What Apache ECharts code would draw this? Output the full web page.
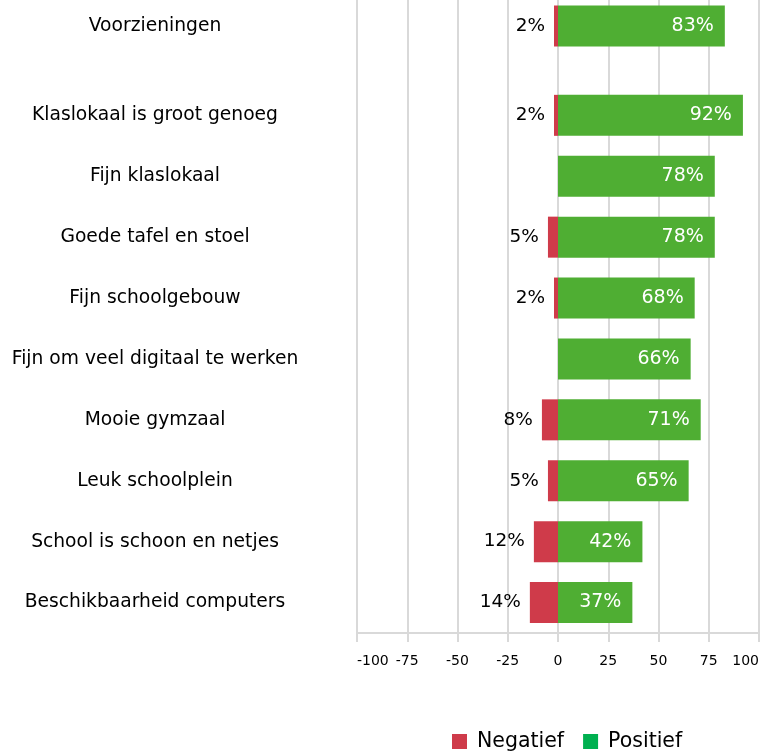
<!DOCTYPE html>
<html>
<head>
<meta charset="utf-8">
<script src="https://cdn.jsdelivr.net/npm/echarts@6/dist/echarts.min.js"></script>
<style>
html,body{margin:0;padding:0;background:#fff;}
#chart{width:761px;height:756px;}
</style>
</head>
<body>
<div id="chart"></div>
<script>
// Data
var headerCategory = ['Voorzieningen'];
var headerNegatief = [2];
var headerPositief = [83];

var categories = [
  'Klaslokaal is groot genoeg',
  'Fijn klaslokaal',
  'Goede tafel en stoel',
  'Fijn schoolgebouw',
  'Fijn om veel digitaal te werken',
  'Mooie gymzaal',
  'Leuk schoolplein',
  'School is schoon en netjes',
  'Beschikbaarheid computers'
];
var negatief = [2, 0, 5, 2, 0, 8, 5, 12, 14];
var positief = [92, 78, 78, 68, 66, 71, 65, 42, 37];
var tickMin = -100, tickMax = 100, tickStep = 25;

var FONT = 'DejaVu Sans';
var RED = '#cf3b4a';
var GREEN = '#4fae33';
var LEGEND_GREEN = '#00b050';
var GRID = '#d9d9d9';

function neg(arr){ return arr.map(function(v){ return v == null ? null : -v; }); }
function pctLabel(p){ var v = Math.abs(p.value); return (!v) ? '' : v + '%'; }

// the lower block gets one empty leading slot (the spacing row under the header)
var lowerCats = [''].concat(categories);
var lowerNeg = [null].concat(negatief);
var lowerPos = [null].concat(positief);

var chart = echarts.init(document.getElementById('chart'), null, {renderer:'canvas'});

function xAxisCfg(gridIndex, showAxis){
  return {
    type:'value', gridIndex:gridIndex, min:tickMin, max:tickMax, interval:tickStep,
    splitLine:{show:true, lineStyle:{color:GRID, width:2}},
    axisLine:{show:showAxis, onZero:false, lineStyle:{color:GRID, width:2}},
    axisTick:{show:showAxis, length:9, lineStyle:{color:GRID, width:2}},
    axisLabel:{show:showAxis, fontFamily:FONT, fontSize:14, color:'#000', margin:21,
      alignMinLabel:'left', alignMaxLabel:'right'}
  };
}
function yAxisCfg(gridIndex, data){
  return {
    type:'category', gridIndex:gridIndex, data:data, inverse:true,
    axisLine:{show:true, lineStyle:{color:GRID, width:2}},
    axisTick:{show:false},
    axisLabel:{fontFamily:FONT, fontSize:18.7, color:'#000', align:'center', margin:202}
  };
}
function negSeries(xi, data){
  return {
    name:'Negatief', type:'bar', stack:'s'+xi, xAxisIndex:xi, yAxisIndex:xi,
    data:neg(data), barWidth:41, itemStyle:{color:RED},
    label:{show:true, position:'left', distance:9, formatter:pctLabel,
      fontFamily:FONT, fontSize:18.5, color:'#000'}
  };
}
function posSeries(xi, data){
  return {
    name:'Positief', type:'bar', stack:'s'+xi, xAxisIndex:xi, yAxisIndex:xi,
    data:data, barWidth:41, itemStyle:{color:GREEN},
    label:{show:true, position:'insideRight', distance:11, formatter:pctLabel,
      fontFamily:FONT, fontSize:19, color:'#fff'}
  };
}

chart.setOption({
  animation:false,
  backgroundColor:'#fff',
  textStyle:{fontFamily:FONT},
  grid:[
    {left:357, right:2, top:0, height:52, outerBoundsMode:'none', containLabel:false},
    {left:357, right:2, top:24, bottom:123, outerBoundsMode:'none', containLabel:false}
  ],
  xAxis:[xAxisCfg(0,false), xAxisCfg(1,true)],
  yAxis:[yAxisCfg(0, headerCategory), yAxisCfg(1, lowerCats)],
  legend:{
    left:452, top:731, padding:0, itemWidth:15, itemHeight:15, itemGap:19, icon:'rect',
    textStyle:{fontFamily:FONT, fontSize:20.5, color:'#000', padding:[0,0,0,5]},
    data:[
      {name:'Negatief', itemStyle:{color:RED}},
      {name:'Positief', itemStyle:{color:LEGEND_GREEN}}
    ]
  },
  series:[
    negSeries(0, headerNegatief), posSeries(0, headerPositief),
    negSeries(1, lowerNeg), posSeries(1, lowerPos)
  ]
});
</script>
</body>
</html>
